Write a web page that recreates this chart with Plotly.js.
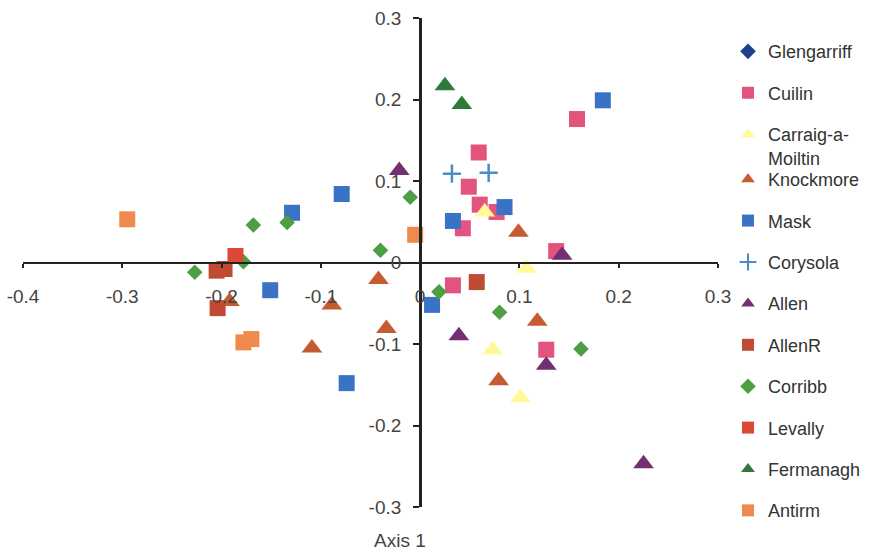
<!DOCTYPE html>
<html>
<head>
<meta charset="utf-8">
<script src="https://cdn.plot.ly/plotly-3.0.1.min.js"></script>
<style>html,body{margin:0;padding:0;background:#fff;}#chart{width:873px;height:552px;}</style>
</head>
<body>
<div id="chart"></div>
<script>
// ---- data (Axis 1, Axis 2 scores) ----
const glengarriffX = [null];   // listed in the legend, no visible points
const glengarriffY = [null];
const cuilinX = [0.158, 0.059, 0.049, 0.060, 0.077, 0.043, 0.137, 0.033, 0.127];
const cuilinY = [0.176, 0.135, 0.093, 0.071, 0.062, 0.042, 0.014, -0.028, -0.107];
const carraigX = [0.065, 0.107, 0.073, 0.101];
const carraigY = [0.062, -0.007, -0.107, -0.166];
const knockmoreX = [0.099, -0.042, -0.089, -0.034, -0.109, 0.118, 0.079, -0.192];
const knockmoreY = [0.037, -0.021, -0.052, -0.081, -0.105, -0.072, -0.145, -0.048];
const maskX = [0.184, -0.079, -0.129, 0.033, 0.085, -0.151, 0.012, -0.074];
const maskY = [0.199, 0.084, 0.061, 0.051, 0.068, -0.034, -0.052, -0.148];
const corysolaX = [0.032, 0.069];
const corysolaY = [0.109, 0.110];
const allenX = [-0.021, 0.143, 0.039, 0.127, 0.225];
const allenY = [0.113, 0.009, -0.090, -0.126, -0.247];
const allenRX = [-0.205, -0.197, -0.204, 0.057];
const allenRY = [-0.010, -0.008, -0.056, -0.024];
const corribbX = [-0.010, -0.168, -0.134, -0.040, -0.227, -0.178, 0.019, 0.080, 0.162];
const corribbY = [0.080, 0.046, 0.049, 0.015, -0.012, 0.001, -0.036, -0.061, -0.106];
const levallyX = [-0.186];
const levallyY = [0.008];
const fermanaghX = [0.025, 0.042];
const fermanaghY = [0.217, 0.194];
const antirmX = [-0.295, -0.005, -0.178, -0.170];
const antirmY = [0.053, 0.034, -0.098, -0.094];

const xTickVals = [-0.4, -0.3, -0.2, -0.1, 0, 0.1, 0.2, 0.3];
const xTickText = ["-0.4", "-0.3", "-0.2", "-0.1", "0", "0.1", "0.2", "0.3"];
const yTickVals = [-0.3, -0.2, -0.1, 0, 0.1, 0.2, 0.3];
const yTickText = ["-0.3", "-0.2", "-0.1", "0", "0.1", "0.2", "0.3"];

const series = [
  {name: "Glengarriff", x: glengarriffX, y: glengarriffY, symbol: "diamond", color: "#1E3F8C", size: 12, leg: "legend"},
  {name: "Cuilin", x: cuilinX, y: cuilinY, symbol: "square", color: "#E2547E", size: 16, leg: "legend"},
  {name: "Carraig-a-<br>Moiltin", x: carraigX, y: carraigY, symbol: "triangle-up", color: "#FFFA96", size: 18, leg: "legend"},
  {name: "Knockmore", x: knockmoreX, y: knockmoreY, symbol: "triangle-up", color: "#C65A30", size: 18, leg: "legend2"},
  {name: "Mask", x: maskX, y: maskY, symbol: "square", color: "#3A72C6", size: 16, leg: "legend2"},
  {name: "Corysola", x: corysolaX, y: corysolaY, symbol: "cross-thin", color: "#4A8CC8", size: 13, leg: "legend2"},
  {name: "Allen", x: allenX, y: allenY, symbol: "triangle-up", color: "#742E72", size: 18, leg: "legend2"},
  {name: "AllenR", x: allenRX, y: allenRY, symbol: "square", color: "#C04B32", size: 16, leg: "legend2"},
  {name: "Corribb", x: corribbX, y: corribbY, symbol: "diamond", color: "#4E9E44", size: 12, leg: "legend2"},
  {name: "Levally", x: levallyX, y: levallyY, symbol: "square", color: "#DA4A36", size: 16, leg: "legend2"},
  {name: "Fermanagh", x: fermanaghX, y: fermanaghY, symbol: "triangle-up", color: "#2F7A3A", size: 18, leg: "legend2"},
  {name: "Antirm", x: antirmX, y: antirmY, symbol: "square", color: "#EF8A4E", size: 16, leg: "legend2"}
];

const traces = series.map((s, i) => ({
  type: "scatter", mode: "markers", name: s.name, x: s.x, y: s.y,
  legend: s.leg, legendgroup: "g" + i,
  marker: {symbol: s.symbol, size: s.size, color: s.color,
           line: {width: s.symbol === "cross-thin" ? 2.5 : 0, color: s.color}}
}));

const font = {family: "Liberation Sans, Arial, sans-serif", size: 19, color: "#444"};
const titleFont = {family: "Liberation Sans, Arial, sans-serif", size: 19, color: "#444"};
const legFont = {family: "Liberation Sans, Arial, sans-serif", size: 18, color: "#333"};

const layout = {
  width: 873, height: 552,
  margin: {l: 23, r: 155, t: 18, b: 45, autoexpand: false},
  paper_bgcolor: "#fff", plot_bgcolor: "#fff",
  font: font,
  showlegend: true,
  xaxis: {
    range: [-0.4, 0.3], autorange: false, domain: [0, 1],
    anchor: "free", position: 0.5,
    showgrid: false, zeroline: false,
    showline: true, linecolor: "#222", linewidth: 2.5,
    ticks: "outside", ticklen: 4, tickwidth: 2, tickcolor: "#222",
    tickvals: xTickVals, ticktext: xTickText, ticklabelstandoff: 12,
    tickfont: font
  },
  yaxis: {
    range: [-0.3, 0.3], autorange: false, domain: [0, 1],
    anchor: "free", position: 4 / 7,
    showgrid: false, zeroline: false,
    showline: true, linecolor: "#222", linewidth: 2.5,
    ticks: "outside", ticklen: 6, tickwidth: 2, tickcolor: "#222",
    tickvals: yTickVals, ticktext: yTickText, ticklabelstandoff: 8,
    tickfont: font
  },
  legend: {
    x: 1.0144, xanchor: "left", y: 0.969, yanchor: "top",
    font: legFont, tracegroupgap: 15, itemsizing: "constant", valign: "top",
    bgcolor: "rgba(0,0,0,0)"
  },
  legend2: {
    x: 1.0144, xanchor: "left", y: 0.7076, yanchor: "top",
    font: legFont, tracegroupgap: 15, itemsizing: "constant", valign: "top",
    bgcolor: "rgba(0,0,0,0)"
  },
  annotations: [{
    text: "Axis 1", xref: "paper", yref: "paper", x: 0.5424, y: -0.0675,
    xanchor: "center", yanchor: "middle", showarrow: false, font: titleFont
  }]
};

Plotly.newPlot("chart", traces, layout, {displayModeBar: false, staticPlot: true});
</script>
</body>
</html>
